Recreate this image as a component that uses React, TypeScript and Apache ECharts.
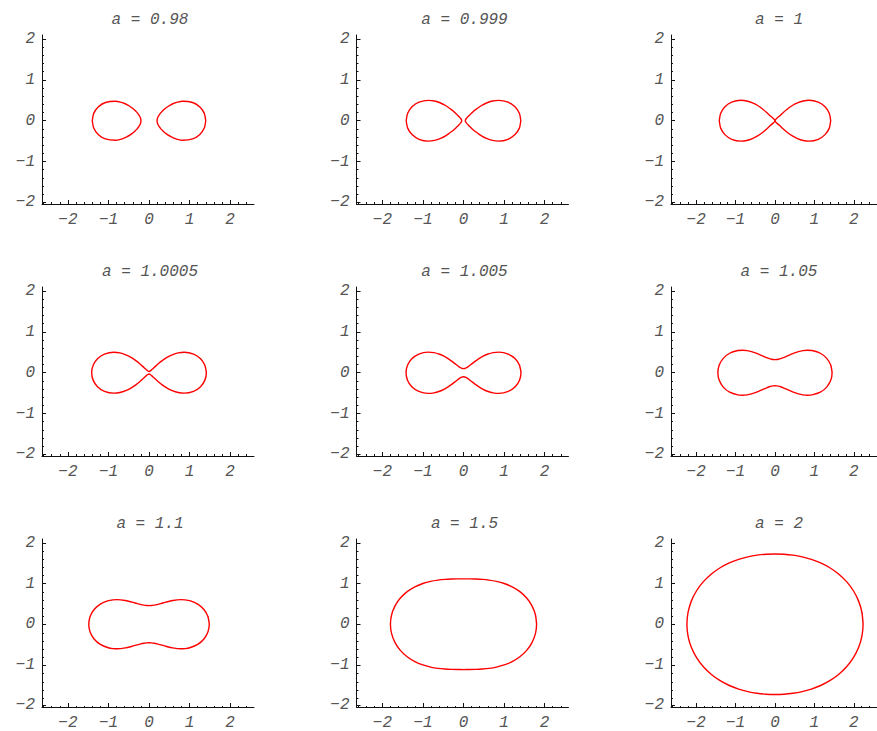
import React, { useEffect, useRef } from "react";
import * as echarts from "echarts";

type Pt = [number, number];

// Panel titles (Cassini ovals for each value of a)
const panelTitles = [
  "a = 0.98",
  "a = 0.999",
  "a = 1",
  "a = 1.0005",
  "a = 1.005",
  "a = 1.05",
  "a = 1.1",
  "a = 1.5",
  "a = 2",
];

// Upper-right quarter of each curve, traced from the outer x-intercept.
// The full curve is the mirror image of this quarter in both axes.
const quarter098: Pt[] = [
  [1.4, 0], [1.3633, 0.1795], [1.2542, 0.3361], [1.0762, 0.4458], [0.8285, 0.4783],
  [0.7032, 0.4567], [0.6022, 0.4216], [0.5383, 0.3911], [0.4856, 0.3607], [0.4219, 0.317],
  [0.3698, 0.2746], [0.3388, 0.2462], [0.3105, 0.2174], [0.2787, 0.181], [0.2522, 0.1456],
  [0.221, 0.0915], [0.2073, 0.0555], [0.2009, 0.0265], [0.199, 0],
];
const quarter0999: Pt[] = [
  [1.4135, 0], [1.3773, 0.1813], [1.2704, 0.3404], [1.0976, 0.4546], [0.8643, 0.499],
  [0.715, 0.4823], [0.5665, 0.4347], [0.4436, 0.3723], [0.2829, 0.2592], [0.2305, 0.215],
  [0.1833, 0.1721], [0.1466, 0.1367], [0.1214, 0.1112], [0.0836, 0.0702], [0.0702, 0.0539],
  [0.0548, 0.0317], [0.0464, 0.0124], [0.0447, 0],
];
const quarter1: Pt[] = [
  [1.4142, 0], [1.378, 0.1814], [1.2712, 0.3406], [1.0987, 0.4551], [0.866, 0.5],
  [0.7176, 0.484], [0.5708, 0.438], [0.4514, 0.3788], [0.3078, 0.2821], [0.1901, 0.1835],
  [0.1332, 0.1309], [0, 0],
];
const quarter10005: Pt[] = [
  [1.4146, 0], [1.3784, 0.1815], [1.2717, 0.3407], [1.0992, 0.4553], [0.8669, 0.5005],
  [0.7189, 0.4849], [0.5729, 0.4396], [0.4551, 0.3819], [0.3172, 0.2907], [0.2353, 0.2253],
  [0.1495, 0.1495], [0.095, 0.0992], [0.0703, 0.0767], [0.0484, 0.0576], [0.0377, 0.0492],
  [0.0224, 0.0387], [0.0088, 0.0328], [0, 0.0316],
];
const quarter1005: Pt[] = [
  [1.4178, 0], [1.3817, 0.1819], [1.2755, 0.3418], [1.1042, 0.4574], [0.8746, 0.5049],
  [0.7299, 0.4923], [0.5905, 0.4531], [0.4832, 0.4055], [0.3714, 0.3403], [0.2664, 0.2664],
  [0.1904, 0.2078], [0.1446, 0.1724], [0.1161, 0.1513], [0.0703, 0.1217], [0.0455, 0.1098],
  [0.0278, 0.1038], [0.0133, 0.101], [0, 0.1001],
];
const quarter105: Pt[] = [
  [1.45, 0], [1.4152, 0.1863], [1.3133, 0.3519], [1.1513, 0.4769], [0.9417, 0.5437],
  [0.817, 0.5511], [0.7053, 0.5412], [0.5961, 0.5182], [0.4818, 0.4818], [0.3179, 0.4143],
  [0.2135, 0.3697], [0.1426, 0.3442], [0.0884, 0.3298], [0.0425, 0.3224], [0, 0.3202],
];
const quarter11: Pt[] = [
  [1.4866, 0], [1.453, 0.1913], [1.355, 0.3631], [1.2007, 0.4973], [1.0044, 0.5799],
  [0.8898, 0.6002], [0.7884, 0.605], [0.5836, 0.5836], [0.4173, 0.5439], [0.2937, 0.5087],
  [0.2006, 0.4843], [0.1257, 0.4691], [0.0607, 0.4609], [0, 0.4583],
];
const quarter15: Pt[] = [
  [1.8028, 0], [1.7738, 0.2335], [1.6896, 0.4527], [1.5578, 0.6453], [1.3902, 0.8026],
  [1.2008, 0.9214], [1.0039, 1.0039], [0.8107, 1.0565], [0.6278, 1.0874], [0.4574, 1.1044],
  [0.2982, 1.113], [0.1471, 1.1169], [0, 1.118],
];
const quarter2: Pt[] = [
  [2.2361, 0], [2.2075, 0.2906], [2.1239, 0.5691], [1.991, 0.8247], [1.8177, 1.0494],
  [1.6143, 1.2387], [1.3916, 1.3916], [1.1587, 1.51], [0.9227, 1.5981], [0.6878, 1.6604],
  [0.4559, 1.7014], [0.2271, 1.7246], [0, 1.7321],
];

const quarters: Pt[][] = [
  quarter098, quarter0999, quarter1,
  quarter10005, quarter1005, quarter105,
  quarter11, quarter15, quarter2,
];

// Axis tick labels
const tickValues = [-2, -1, 0, 1, 2];

// Axis extents of every panel
const xRange: Pt = [-2.64, 2.59];
const yRange: Pt = [-2.04, 2.1];

const mirror = (pts: Pt[], sx: number, sy: number): Pt[] =>
  pts.map(([x, y]) => [x * sx, y * sy] as Pt);
const rev = (pts: Pt[]): Pt[] => pts.slice().reverse();

// Turns a quarter curve into the closed loops drawn in a panel
function buildLoops(q: Pt[]): Pt[][] {
  const last = q[q.length - 1];
  if (last[1] === 0) {
    // two separate ovals
    const right = [...q, ...rev(mirror(q, 1, -1)).slice(1)];
    return [right, mirror(right, -1, 1)];
  }
  if (last[0] === 0 && last[1] === 0) {
    // figure eight through the origin
    return [
      [
        ...rev(q),
        ...mirror(q, 1, -1).slice(1),
        ...rev(mirror(q, -1, 1)).slice(1),
        ...mirror(q, -1, -1).slice(1),
      ],
    ];
  }
  // one closed curve
  const loop = [
    ...q,
    ...rev(mirror(q, -1, 1)).slice(1),
    ...mirror(q, -1, -1).slice(1),
    ...rev(mirror(q, 1, -1)).slice(1),
  ];
  loop.push(loop[1]);
  return [loop];
}

const FONT = "'Liberation Mono', 'DejaVu Sans Mono', monospace";
const TEXT_COLOR = "#555";

const GRID_LEFT0 = 42;
const GRID_TOP0 = 35;
const COL_STEP = 314.5;
const ROW_STEP = 252;
const GRID_W = 212;
const GRID_H = 169;

function minorTicks(lo: number, hi: number): number[] {
  const out: number[] = [];
  for (let k = Math.ceil(lo / 0.2); k * 0.2 <= hi + 1e-9; k++) {
    const v = Math.round(k * 0.2 * 10) / 10;
    if (Math.abs(v - Math.round(v)) > 1e-6) out.push(v);
  }
  return out;
}

const fmt = (v: number) => (v < 0 ? "\u2212" + Math.abs(v) : String(v));

export default function App() {
  const ref = useRef<HTMLDivElement>(null);

  useEffect(() => {
    if (!ref.current) return;
    const chart = echarts.init(ref.current, undefined, { renderer: "svg" });

    const grids: any[] = [];
    const xAxes: any[] = [];
    const yAxes: any[] = [];
    const series: any[] = [];
    const graphics: any[] = [];

    const n = panelTitles.length;
    for (let i = 0; i < n; i++) {
      const col = i % 3;
      const row = Math.floor(i / 3);
      const left = GRID_LEFT0 + COL_STEP * col;
      const top = GRID_TOP0 + ROW_STEP * row;
      grids.push({ left, top, width: GRID_W, height: GRID_H, containLabel: false });

      xAxes.push({
        type: "value",
        gridIndex: i,
        min: xRange[0],
        max: xRange[1],
        splitLine: { show: false },
        axisLine: { show: true, onZero: false, lineStyle: { color: "#111", width: 1 } },
        axisTick: {
          show: true,
          inside: true,
          length: 4,
          customValues: tickValues,
          lineStyle: { color: "#111" },
        },
        axisLabel: {
          customValues: tickValues,
          formatter: fmt,
          margin: 8,
          color: TEXT_COLOR,
          fontFamily: FONT,
          fontStyle: "italic",
          fontSize: 16,
        },
      });
      yAxes.push({
        type: "value",
        gridIndex: i,
        min: yRange[0],
        max: yRange[1],
        splitLine: { show: false },
        axisLine: { show: true, onZero: false, lineStyle: { color: "#111", width: 1 } },
        axisTick: {
          show: true,
          inside: true,
          length: 4,
          customValues: tickValues,
          lineStyle: { color: "#111" },
        },
        axisLabel: {
          customValues: tickValues,
          formatter: fmt,
          margin: 7,
          color: TEXT_COLOR,
          fontFamily: FONT,
          fontStyle: "italic",
          fontSize: 16,
        },
      });

      buildLoops(quarters[i]).forEach((loop) => {
        series.push({
          type: "line",
          xAxisIndex: i,
          yAxisIndex: i,
          data: loop,
          smooth: 0.25,
          showSymbol: false,
          symbol: "none",
          lineStyle: { color: "#ff0000", width: 1.4 },
          silent: true,
        });
      });

      const zeroX = left + ((0 - xRange[0]) / (xRange[1] - xRange[0])) * GRID_W;
      graphics.push({
        type: "text",
        x: zeroX + 1,
        y: 20 + ROW_STEP * row,
        style: {
          text: panelTitles[i],
          fill: TEXT_COLOR,
          font: `italic 16px ${FONT}`,
          textAlign: "center",
          textVerticalAlign: "middle",
        },
      });
    }

    // overlay grids carrying the minor ticks
    for (let i = 0; i < n; i++) {
      const col = i % 3;
      const row = Math.floor(i / 3);
      grids.push({
        left: GRID_LEFT0 + COL_STEP * col,
        top: GRID_TOP0 + ROW_STEP * row,
        width: GRID_W,
        height: GRID_H,
      });
      xAxes.push({
        type: "value",
        gridIndex: n + i,
        min: xRange[0],
        max: xRange[1],
        splitLine: { show: false },
        axisLine: { show: false, onZero: false },
        axisTick: {
          show: true,
          inside: true,
          length: 2,
          customValues: minorTicks(xRange[0], xRange[1]),
          lineStyle: { color: "#111" },
        },
        axisLabel: { show: false },
      });
      yAxes.push({
        type: "value",
        gridIndex: n + i,
        min: yRange[0],
        max: yRange[1],
        splitLine: { show: false },
        axisLine: { show: false, onZero: false },
        axisTick: {
          show: true,
          inside: true,
          length: 2,
          customValues: minorTicks(yRange[0], yRange[1]),
          lineStyle: { color: "#111" },
        },
        axisLabel: { show: false },
      });
    }

    chart.setOption({
      animation: false,
      backgroundColor: "#ffffff",
      grid: grids,
      xAxis: xAxes,
      yAxis: yAxes,
      series,
      graphic: graphics,
    });

    return () => chart.dispose();
  }, []);

  return (
    <div
      ref={ref}
      style={{ position: "fixed", left: 0, top: 0, width: 877, height: 731 }}
    />
  );
}
